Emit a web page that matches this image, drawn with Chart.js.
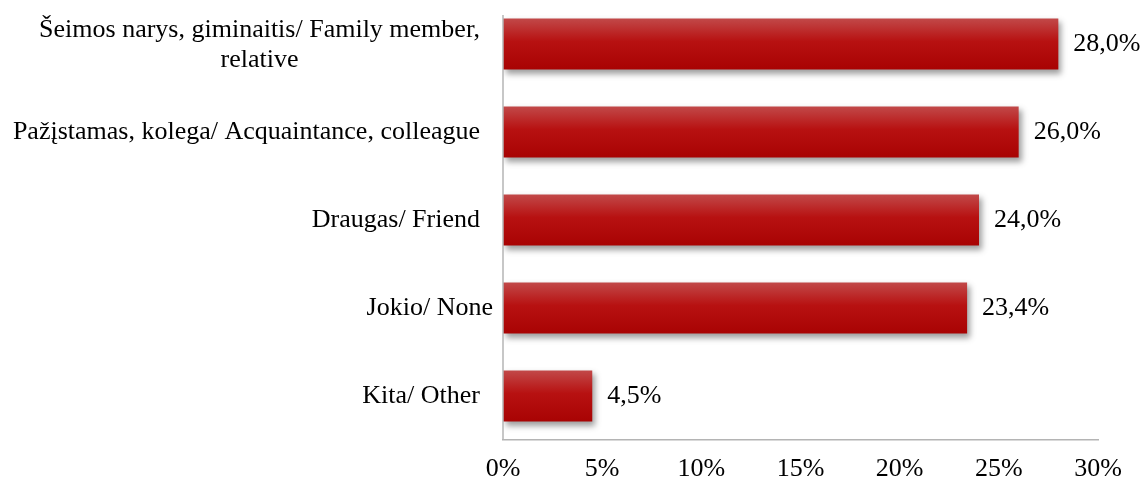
<!DOCTYPE html>
<html>
<head>
<meta charset="utf-8">
<script src="https://cdn.jsdelivr.net/npm/chart.js@4/dist/chart.umd.min.js"></script>
<style>
  html, body { margin: 0; padding: 0; background: #fff; }
  #wrap { width: 1145px; height: 479px; }
</style>
</head>
<body>
<div id="wrap"><canvas id="chart"></canvas></div>
<script>
// categories (trailing spaces copied from the source labels, line break = wrap)
const categories = [
  "Šeimos narys, giminaitis/ Family member,  \nrelative",
  "Pažįstamas, kolega/ Acquaintance, colleague  ",
  "Draugas/ Friend  ",
  "Jokio/ None",
  "Kita/ Other  "
];
const values = [28.0, 26.0, 24.0, 23.4, 4.5];
const xTicks = [0, 5, 10, 15, 20, 25, 30];

const FONT = "Liberation Serif, Times New Roman, serif";
const SIZE = 26;

function barFill(ctx) {
  const chart = ctx.chart;
  const y = chart.scales.y;
  if (!chart.chartArea || !y) return "#b30808";
  const c = y.getPixelForValue(ctx.dataIndex);
  const g = chart.ctx.createLinearGradient(0, c - 26, 0, c + 26);
  g.addColorStop(0, "#c24a4a");
  g.addColorStop(0.45, "#b71111");
  g.addColorStop(1, "#a80303");
  return g;
}

const decor = {
  id: "decor",
  beforeDatasetsDraw(chart) {
    const ctx = chart.ctx;
    ctx.save();
    ctx.shadowColor = "rgba(0,0,0,0.38)";
    ctx.shadowBlur = 6;
    ctx.shadowOffsetX = 3;
    ctx.shadowOffsetY = 4;
  },
  afterDatasetsDraw(chart) {
    const ctx = chart.ctx;
    ctx.restore();
    const { left, bottom } = chart.chartArea;
    const y = chart.scales.y;

    // value axis line
    ctx.save();
    ctx.strokeStyle = "#b4b4b4";
    ctx.lineWidth = 1.5;
    ctx.beginPath();
    ctx.moveTo(left, 15);
    ctx.lineTo(left, bottom);
    ctx.stroke();

    ctx.fillStyle = "#000";
    ctx.font = SIZE + "px " + FONT;
    ctx.textBaseline = "middle";

    // value labels
    const meta = chart.getDatasetMeta(0);
    ctx.textAlign = "left";
    meta.data.forEach((bar, i) => {
      ctx.fillText(values[i].toFixed(1).replace(".", ",") + "%", bar.x + 15, bar.y);
    });

    // category labels (multi-line ones centred as a block)
    const right = left - 10;
    categories.forEach((label, i) => {
      const lines = label.split("\n");
      const c = y.getPixelForValue(i);
      const lh = 30;
      if (lines.length === 1) {
        ctx.textAlign = "right";
        ctx.fillText(label, right, c);
        return;
      }
      let w = 0, trail = 0;
      lines.forEach(l => {
        const tw = ctx.measureText(l.trimEnd()).width;
        if (tw > w) { w = tw; trail = ctx.measureText(l).width - tw; }
      });
      ctx.textAlign = "center";
      lines.forEach((l, k) => {
        const ly = c + (k - (lines.length - 1) / 2) * lh + 1;
        ctx.fillText(l.trimEnd(), right - trail - w / 2, ly);
      });
    });
    ctx.restore();
  }
};

new Chart(document.getElementById("chart"), {
  type: "bar",
  data: {
    labels: categories,
    datasets: [{
      data: values,
      backgroundColor: barFill,
      borderWidth: 0,
      barPercentage: 0.58,
      categoryPercentage: 1
    }]
  },
  options: {
    indexAxis: "y",
    responsive: true,
    maintainAspectRatio: false,
    animation: false,
    layout: { padding: { top: 0, right: 47, bottom: 0, left: 0 } },
    plugins: { legend: { display: false }, tooltip: { enabled: false } },
    scales: {
      x: {
        min: 0,
        max: 30,
        afterBuildTicks(scale) { scale.ticks = xTicks.map(v => ({ value: v })); },
        afterFit(scale) { scale.height = 39; },
        grid: { display: false, drawTicks: false },
        border: { display: true, color: "#b4b4b4", width: 1.5 },
        ticks: {
          padding: 14,
          color: "#000",
          font: { family: FONT, size: SIZE },
          callback: v => v + "%"
        }
      },
      y: {
        afterFit(scale) { scale.width = 503; },
        grid: { display: false, drawTicks: false },
        border: { display: false },
        ticks: { display: false }
      }
    }
  },
  plugins: [decor]
});
</script>
</body>
</html>
